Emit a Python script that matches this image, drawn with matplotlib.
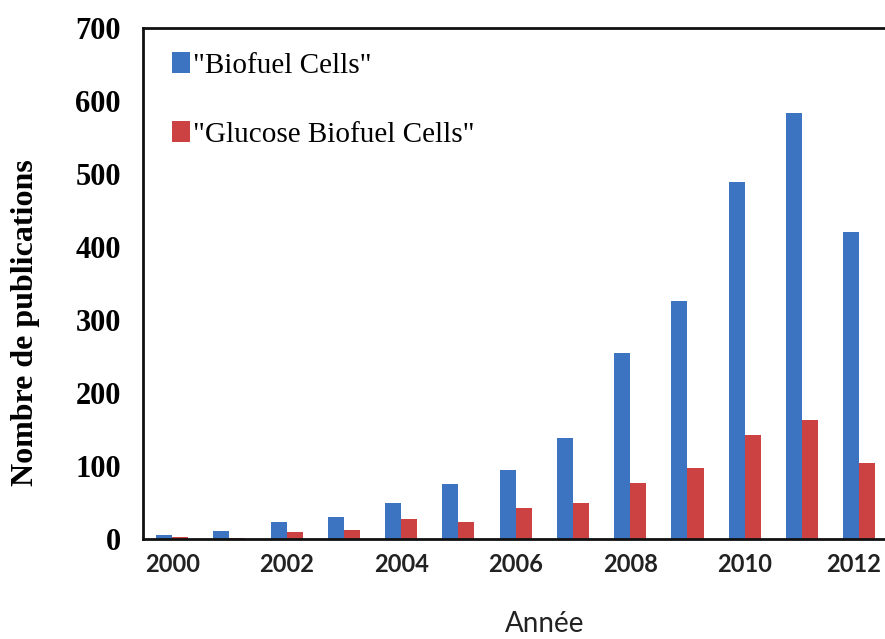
import numpy as np
import matplotlib.pyplot as plt
from matplotlib.transforms import ScaledTranslation

# data
years = [2000, 2001, 2002, 2003, 2004, 2005, 2006, 2007, 2008, 2009, 2010, 2011, 2012]
biofuel = [5, 11, 23, 30, 49, 75, 95, 138, 255, 326, 489, 584, 420]
glucose = [3, 1, 10, 12, 27, 23, 42, 49, 77, 97, 142, 163, 104]
labels = ['"Biofuel Cells"', '"Glucose Biofuel Cells"']
xticks = [2000, 2002, 2004, 2006, 2008, 2010, 2012]
yticks = [0, 100, 200, 300, 400, 500, 600, 700]

blue = '#3C74C2'
red = '#CC4242'
w = 0.28

fig = plt.figure(figsize=(8.85, 6.39), dpi=100)
ax = fig.add_axes([143/885, 1 - 539/639, 1 - 143/885, (539 - 28)/639])

x = np.array(years)
ax.bar(x - w/2, biofuel, width=w, color=blue, label=labels[0])
ax.bar(x + w/2, glucose, width=w, color=red, label=labels[1])

ax.set_xlim(1999.49, 2012.45)
ax.set_ylim(0, 700)

ax.set_yticks(yticks)
ax.set_yticklabels([str(v) for v in yticks], fontfamily='Liberation Serif',
                   fontweight='bold', fontsize=22)
ax.set_xticks(xticks)
ax.set_xticklabels([str(v) for v in xticks], fontfamily='Lato',
                   fontweight='bold', fontsize=17, color='#222222')
ax.tick_params(length=0)
ax.tick_params(axis='y', pad=16)
ax.tick_params(axis='x', pad=10)

# keep the last year label inside the picture
last = ax.get_xticklabels()[-1]
last.set_transform(last.get_transform() + ScaledTranslation(-4/72, 0, fig.dpi_scale_trans))

for s in ['left', 'bottom', 'top']:
    ax.spines[s].set_linewidth(2)
    ax.spines[s].set_color('#111111')
ax.spines['right'].set_visible(False)

ax.set_ylabel('Nombre de publications', fontfamily='Liberation Serif',
              fontweight='bold', fontsize=23)
ax.yaxis.set_label_coords(-0.139, 0.423)

fig.text(545/885, 1 - 624/639, 'Année', fontfamily='Lato', fontsize=20,
         ha='center', va='center', color='#222222')

leg = ax.legend(loc='upper left', bbox_to_anchor=(0.024, 0.975), frameon=False,
                prop={'family': 'Liberation Serif', 'size': 21},
                handlelength=0.6, handleheight=0.7, handletextpad=0.12,
                labelspacing=1.45, borderaxespad=0)

fig.savefig('out.png', dpi=100)
